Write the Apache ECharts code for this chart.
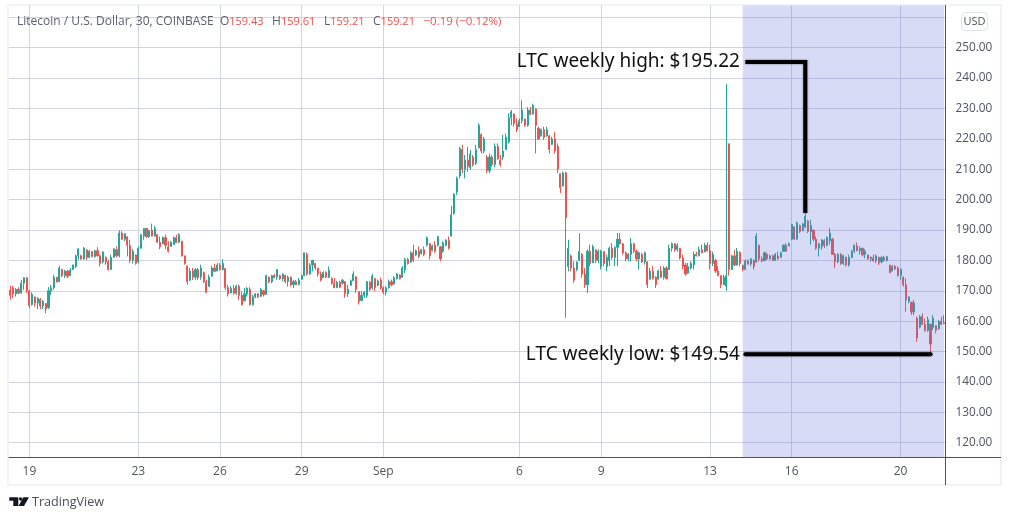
<!DOCTYPE html>
<html><head><meta charset="utf-8">
<style>html,body{margin:0;padding:0;background:#fff}#c{width:1011px;height:520px}</style>
<script src="https://cdn.jsdelivr.net/npm/echarts@6/dist/echarts.min.js"></script>
</head><body><div id="c"></div>
<script>
// rows are [open, close, low, high]
const candlesAug = [
[170.2,168.5,167,171.6],[171,169,167.6,171.6],[169,170.5,168.1,170.9],[170.5,169.2,169,171.2],[169.3,172.5,169,173.6],[172.5,174.3,170.3,174.5],[174.3,170,169.2,174.5],[170,165.2,164.3,170.3],[165.5,168.8,165.1,169.5],[168,166,164.8,168.1],
[166,167.5,164,167.9],[167.2,165,164,167.6],[165,166.5,164,167],[165.8,164,162.6,165.9],[164.5,170,164,171.2],[170,171,168.7,171.9],[171,174.5,170.3,175.3],[174.5,173,172.7,174.5],[173,177.5,173,178.2],[177,175,174.5,177.1],
[175,176.5,174.2,176.9],[176.5,174.8,174.2,176.9],[175,176.8,175,177.5],[177,178.5,176.9,178.6],[178,181.5,177.5,181.9],[181.5,183.8,180.2,184],[181.5,180.5,180.2,181.9],[180.5,184,180.2,184.4],[183.5,181,180.2,183.5],[181,183,180.8,183.5],
[183,181.3,181,183],[181.2,183.2,181,183.5],[183.2,181.5,181.3,184.4],[181.5,179,178,181.9],[179.5,182.8,179,183],[181,179.5,178.6,181.3],[179.5,177,176.7,180.2],[177,181,176.9,181.9],[181,183.8,181,184],[183.5,181.5,181,184.6],
[181.5,189,181,189.9],[189,187,186.8,189.6],[187,188.8,186.3,189],[187.8,185,181.3,187.9],[185,180,179.1,186.8],[180,183,179,183.7],[181.8,179,178.6,181.9],[179.5,184,179,184.6],[184,188.5,184,188.5],[188,190.5,186.8,190.7],
[190.5,187.8,187.4,190.7],[187.8,189.8,187.4,190.1],[190,188,187.9,192.1],[188,190.5,187.9,191.4],[188.5,186,185.7,188.5],[186,184.5,183.7,187.9],[185.5,187.5,185.3,187.9],[187.5,185,183.7,188.5],[184.5,183,182.6,186.3],[184.6,186,184.5,186.3],
[185.2,187.5,185.2,187.9],[187.5,185.8,185.7,188.5],[186,188.5,185.7,189],[186.3,181.5,181.3,186.5],[181.5,179,178.6,181.5],[178.2,173,172,178.2],[173.5,176.5,173.2,177.5],[176.5,174.5,173.6,177.5],[174.5,177,173.6,177.5],[177,174.3,173.6,177.5],
[174.5,177.5,173.6,178.6],[176,173,172.5,176.3],[173,169.5,169.2,173.6],[171.5,174.5,171.2,175.3],[174.8,177.5,174.7,178.2],[177.5,176.4,176.4,178.9],[176.5,178.5,176.4,179.1],[178.5,177,176.7,179.1],[177,179,176.7,180.4],[177.3,171,170.3,177.5],
[171,169,168.1,172],[169.3,170.8,169.2,171.6],[170.8,169.2,168.7,172],[169.2,171.5,168.7,172],[171.5,168.5,167,172],[168.5,165.5,165.1,169.8],[166.7,169,166.5,170.9],[169,170.8,168.1,171.2],[170.5,165.5,165.1,171.2],[165.5,168,165.1,168.7],
[168,169,167.6,169.2],[169,168,167.6,169.2],[168.2,170.5,168,170.9],[170,168.8,168.1,170.3],[168.8,175,168.7,175.3],[174.5,173,172.5,174.7],[173,175,172.5,175.3],[175,174.3,174.2,175.6],[174.5,177,173.6,177.1],[175,174,173.6,175.3],
[174,175.5,173.1,175.8],[175,173,172.5,175.3],[173,174.5,171.4,175],[174.5,172,171.4,174.7],[172,173,170.9,173.6],[173,172,172,173.6],[172,173.5,172,174.2],[173.8,175,173.6,175.3],[175,182.5,174.8,182.6],[182,175.5,175,182.6],
[175.5,178.5,175.3,179.1],[178.5,180,176.4,180.2],[179,177.5,176.9,179.1],[177.5,175.5,174.7,177.5],[175.5,173.5,173.1,176.4],[174.3,176,174.2,176.4],[176,174.5,174.2,176.4],[174.5,176.8,174.2,178],[174,172.5,172,174.5],[172.5,171,170.9,174.2],
[171,172.8,170.9,173.3],[172.8,171.2,170.9,173.3]
];
const candlesSepRally = [
[172.5,173.5,172.1,173.9],[173,169,167.7,173.2],[169,170.5,168,172],[171.8,173.3,171.5,173.7],[173.3,175.5,173.2,176.4],[174.6,170.5,169.3,174.8],[169.7,166.5,165.5,169.9],[166.8,168.5,166.6,169.9],[168.5,169.5,167.7,169.9],[168.5,173,167.7,173.2],
[172.8,170.5,169.9,173.2],[171,174.8,170.4,175.7],[174,171,169.9,174.3],[171.8,173.2,171.5,173.7],[173.5,171,170.4,174.3],[171,169.5,168.8,171.5],[169.5,171,168.5,171.5],[171,173,170.7,173.7],[173,172,171.5,173.7],[172.2,174.3,172.1,174.8],
[174,175.5,173.7,175.9],[175.2,174,173.7,175.4],[174.5,177.5,174.3,178.1],[177,180.3,175.9,180.8],[180.3,179,178.6,180.8],[179.5,182.5,179.2,183],[182.5,180,179.4,185.2],[181.8,183.2,181.4,183.6],[183,181.3,180.8,184.6],[182.2,183.5,181.9,183.8],
[183.5,182,181.4,184.6],[185,187.5,184.6,187.9],[185.5,181.5,180.3,185.7],[183.3,184.8,183,185.2],[185,183,182.5,186.3],[185,187.8,184.6,188.1],[184.5,180.5,179.7,184.6],[183,185.8,182.5,186.3],[185,186.7,184.6,187],[186.5,184,183.6,187.9],
[188,195,187.9,198],[195.5,201.8,195,202.1],[202.5,207,201.5,207.6],[207.8,216.8,207,217.4],[216.5,210,208.7,218],[210,213,207,214.7],[213,211,209.2,217.4],[210.5,215,209.8,216.3],[214,211.5,210.9,214.7],[212,216.5,211.4,218],
[217,224.5,216.9,225.1],[221.5,216,215.2,221.8],[216,220,215.2,220.7],[214,209.5,208.7,214.7],[209.5,214,208.7,215.2],[214,211.5,210.9,214.7],[211.5,217.5,210.7,218.5],[217.5,213.5,213.1,218.5],[213,211.5,210.9,214.7],[214,216,213.1,221.3],
[216.5,220.5,216.3,221.8],[219,227,218.5,228.4],[227,228.9,224.5,229.5],[228.2,225,224,228.4],[225,223,222.3,226.7],[224,226,224,226.7],[226,229.5,225.1,232.7],[226.5,224.5,224,226.7],[224.5,229.5,224,230.5],[229.5,228,227.8,230.5],
[228.2,231,228,231.6],[229.8,224.5,215.2,230],[223.5,220,219.6,224],[221,223,220.7,223.4],[223,220.5,219.6,224],[221,223,220.7,224],[221,216.5,215.2,221.3],[218.2,220,218,220.7],[220,216,215.2,222.3],[217.5,210,208.7,218.5],
[208.5,204,202.1,208.7],[204.5,208.8,204.3,209.2],[208.8,194,161.1,209.2],[178,184,176.4,186.8],[181.5,177.5,176.4,181.9],[177.5,173.5,172.6,179.7],[177,179.5,176.4,179.7],[180,183,179.8,189],[182,175.5,174.3,182.4],[175.5,172,171,177.5],
[172,183,169.3,183.6],[183,179,178.1,185.2],[179.2,184.5,179.2,185.2],[183.5,180,179.2,183.6],[180,183,179.2,183.6]
];
const candlesSepRange = [
[178,183,177,183.5],[182.9,179,178.1,182.9],[178,181,176.4,181.9],[180,184,178.1,184.6],[184,181,180.3,185.7],[181,184.3,178.1,184.6],[184.3,187,178.1,189],[187,185.5,185.2,189],[185.5,182.5,181.9,185.7],[182.5,180.5,179.7,182.9],
[180.5,182,179.7,182.4],[182,185.5,179.7,187.4],[185.5,183,182.4,185.7],[183,180.5,179.7,183.5],[180.5,182.5,177,182.9],[182,179.5,179.2,182.4],[179.5,182.5,178.6,182.9],[179.5,172,170.9,179.7],[173.8,176.5,173.7,177.5],[176.5,174,173.7,178.1],
[174.5,172,170.9,174.8],[173.8,176.5,173.7,177],[176.5,174.5,174.2,178.1],[174.5,177.5,173.7,178.1],[177.5,174,173.7,178.1],[177,184,177,185.2],[184,185.5,182.9,185.9],[185.5,183.5,182.9,185.7],[183.5,185,182.9,185.7],[184,180.8,180.3,184.1],
[180.8,178,177,181.9],[178.5,175.5,175,179.2],[175.8,178,175.7,179.2],[177.5,179,177,179.7],[178.5,182,177,182.9],[182,181.5,181.3,182.9],[181.5,183.5,181.4,184.6],[183.5,182.5,182.4,185.2],[182.8,185,182.7,185.7],[185,183.2,182.9,186],
[183.2,179,177,185.2],[179,182,178.1,182.9],[180,176.5,175.9,180.5],[176.5,175,174.8,178.1],[175,172,170.9,175],[172,174.5,172,175.3],[171.5,175,170,238.1],[218.4,177,175,218.4],[177,181.5,177,181.9],[181.5,178.5,178.1,183.5],
[178.5,183,178.3,184.1],[182.7,179,178.1,182.9],[178.4,177,176.4,178.6]
];
const candlesWeek = [
[177,179.8,177,180.3],[179.8,178.8,178.6,180.3],[178.8,180.5,178.1,180.8],[180,178,177,180.3],[179.5,188,179.2,189],[185,180.5,179.7,185.2],[180.5,179.8,179.4,181.3],[180,182.5,179.7,182.9],[182,180.5,180.3,182.6],[180.5,181.5,180.3,181.9],
[181.5,180,179.7,181.9],[180,182,179.9,182.4],[181.5,180.5,180.3,182.9],[181,182.5,180.9,182.9],[183,185,182.9,185.2],[185,183,182.9,185.7],[184.8,185.5,184.6,185.9],[187,191.8,186.8,192.1],[191,187,186.8,191.2],[187,192.3,186.8,192.8],
[191.5,189.5,189,191.8],[189.8,192,189.6,192.3],[191,194.5,190.7,195.4],[193,189.5,189,193.4],[189.5,191.5,185.2,193.4],[190,187,186.3,190.1],[187,184,183.5,187.9],[184,185.5,181.3,185.7],[184.5,186.8,183.5,187],[186.5,185,184.1,187],
[185,187.5,184.6,187.9],[186.5,189,185.2,190.7],[187,182,181.9,187.4],[182,179.5,177.4,182.4],[179.5,182,179.1,182.4],[182,179,178.5,182.4],[179,181.5,178.5,181.9],[181,178.5,178,181.3],[178.5,181,178,181.9],[181,183,180.7,183.5],
[183,185,182.4,185.2],[184.8,183.2,183,185.9],[183.2,184,181.9,184.6],[184,181.8,181.3,184.1],[182,183,180.7,183.7],[181.8,180.5,180.2,181.9],[180.5,181,179.6,181.3],[180.8,179.8,179.6,181.9],[180,181.5,179.1,181.9],[181,179.2,178.5,181.3],
[179.5,181,179.1,181.3],[181,180,179.6,181.5],[180,181.2,179.6,181.5],[178.5,176,175.8,178.5],[176.5,178,176.4,178.5],[178,177.2,176.9,178.5],[177.5,175,174.7,178],[175,177,173.6,177.4],[174.5,172,171.4,174.7],[172,167,163.1,174.1],
[166.5,168,165.9,168.1],[166.2,163,162,166.4],[163,166,162,167],[161,154.5,153.2,161.5],[158,161.5,157.6,162],[161.5,159,158.7,162.6],[159,157,156.5,160.9],[157,160.5,156.5,161.5],[159,152.5,149.54,159.2],[158,161,157.1,162],
[158.5,157,156,158.7],[157.5,160,157.1,160.4],[160,159,158.7,161.5],[159.43,159.21,159,162]
];
const candleRows = [...candlesAug, ...candlesSepRally, ...candlesSepRange, ...candlesWeek];

const dayTickIndex = [7,47,77,107,137,187,217,257,287,327];
const dayTickLabel = ['19','23','26','29','Sep','6','9','13','16','20'];
const priceTicks = [120,130,140,150,160,170,180,190,200,210,220,230,240,250,260];
const priceLabels = [120,130,140,150,160,170,180,190,200,210,220,230,240,250];
const categories = candleRows.map((_, i) => {
  const k = dayTickIndex.indexOf(i);
  return k >= 0 ? dayTickLabel[k] : '';
});
const weekStartIndex = 269;
const highCallout = [[270,245.3],[292,245.3],[292,195.6]];
const lowCallout = [[270,149.1],[338,149.1]];
const highText = 'LTC weekly high: $195.22';
const lowText = 'LTC weekly low: $149.54';
const headerName = 'Litecoin / U.S. Dollar, 30, COINBASE';
const headerOHLC = [['O','159.43'],['H','159.61'],['L','159.21'],['C','159.21']];
const headerChange = '\u22120.19 (\u22120.12%)';

const UP='#26a69a', DOWN='#ef5350', GRID='#d1d3df', AXIS='#50535e', TXT='#5d606b';
const F='"Open Sans","Noto Sans",sans-serif';
const isTick = (i, v) => v !== '';
const headerText = '{g|'+headerName+'  }' + headerOHLC.map(p=>'{g|'+p[0]+'}{r|'+p[1]+'   }').join('') + '{c|'+headerChange+'}';

const chart = echarts.init(document.getElementById('c'), null, {renderer:'canvas'});
const calloutLabel = {show:true, position:'left', distance:5, color:'#111', fontFamily:'"Noto Sans",sans-serif', fontSize:19};
const calloutMark = {symbol:'circle', symbolSize:1, itemStyle:{color:'rgba(0,0,0,0)'}};
chart.setOption({
  animation:false,
  backgroundColor:'#fff',
  grid:{left:9, right:65.5, top:5.5, bottom:63, containLabel:false},
  title:{left:17, top:15.5, padding:0, text:headerText,
    textStyle:{fontWeight:'normal', rich:{
      g:{color:TXT, fontFamily:F, fontSize:12, fontWeight:'normal'},
      r:{color:DOWN, fontFamily:F, fontSize:11, fontWeight:'normal'},
      c:{color:DOWN, fontFamily:F, fontSize:11.5, fontWeight:'normal'}
    }}},
  xAxis:{type:'category', data:categories, boundaryGap:true,
    axisLine:{show:true, onZero:false, lineStyle:{color:AXIS,width:1}},
    axisTick:{show:false},
    axisLabel:{interval:isTick, color:AXIS, fontFamily:F, fontSize:12, margin:9},
    splitLine:{show:true, interval:isTick, alignWithLabel:true, lineStyle:{color:GRID,width:1}}},
  yAxis:{type:'value', position:'right', min:115.3, max:263.9, scale:true,
    axisLine:{show:true, lineStyle:{color:AXIS,width:1}},
    axisTick:{show:false, customValues:priceTicks},
    axisLabel:{customValues:priceLabels, color:AXIS, fontFamily:F, fontSize:11.8, margin:10, padding:[5,0,0,0], formatter:v=>v.toFixed(2)},
    splitLine:{show:true, lineStyle:{color:GRID,width:1}}},
  series:[
    {type:'candlestick', data:candleRows, barWidth:1.6, z:2, clip:true,
     itemStyle:{color:UP,color0:DOWN,borderColor:UP,borderColor0:DOWN,borderWidth:1},
     markArea:{silent:true, z:3, itemStyle:{color:'rgba(100,110,220,0.25)'},
       data:[[{xAxis:weekStartIndex},{xAxis:candleRows.length-1}]]}},
    {type:'line', z:6, silent:true, symbol:'none', data:highCallout,
     lineStyle:{color:'#000',width:4,join:'miter',cap:'butt',shadowBlur:2,shadowColor:'rgba(0,0,0,0.6)'},
     markPoint:{...calloutMark, data:[{coord:highCallout[0], value:0, label:{...calloutLabel, formatter:highText}}]}},
    {type:'line', z:6, silent:true, symbol:'none', data:lowCallout,
     lineStyle:{color:'#000',width:4,cap:'round',shadowBlur:2,shadowColor:'rgba(0,0,0,0.6)'},
     markPoint:{...calloutMark, data:[{coord:lowCallout[0], value:0, label:{...calloutLabel, formatter:lowText}}]}}
  ],
  graphic:[
    {type:'rect', z:-1, shape:{x:8,y:5,width:993,height:480}, style:{fill:'none',stroke:'#f0f3fa',lineWidth:2}},
    {type:'line', z:5, shape:{x1:945.5,y1:5,x2:945.5,y2:485}, style:{stroke:AXIS,lineWidth:1}},
    {type:'line', z:5, shape:{x1:9,y1:457.5,x2:1001,y2:457.5}, style:{stroke:AXIS,lineWidth:1}},
    {type:'rect', z:5, shape:{x:961.5,y:12.5,width:26,height:18,r:4}, style:{fill:'#fff',stroke:'#e0e3eb',lineWidth:1}},
    {type:'text', z:6, x:974.5, y:21.5, style:{text:'USD',fill:AXIS,font:'11px '+F,align:'center',verticalAlign:'middle'}},
    {type:'polygon', z:6, shape:{points:[[9.3,497.3],[18.3,497.3],[18.3,506],[13.3,506],[13.3,500.7],[9.3,500.7]]}, style:{fill:'#131722'}},
    {type:'polygon', z:6, shape:{points:[[23.3,497.3],[29,497.3],[24,506],[18.5,506]]}, style:{fill:'#131722'}},
    {type:'circle', z:6, shape:{cx:20.6,cy:499,r:1.7}, style:{fill:'#131722'}},
    {type:'text', z:6, x:32, y:502.5, style:{text:'TradingView',fill:'#4a4e59',font:'12.6px '+F,verticalAlign:'middle'}}
  ]
});
</script></body></html>
